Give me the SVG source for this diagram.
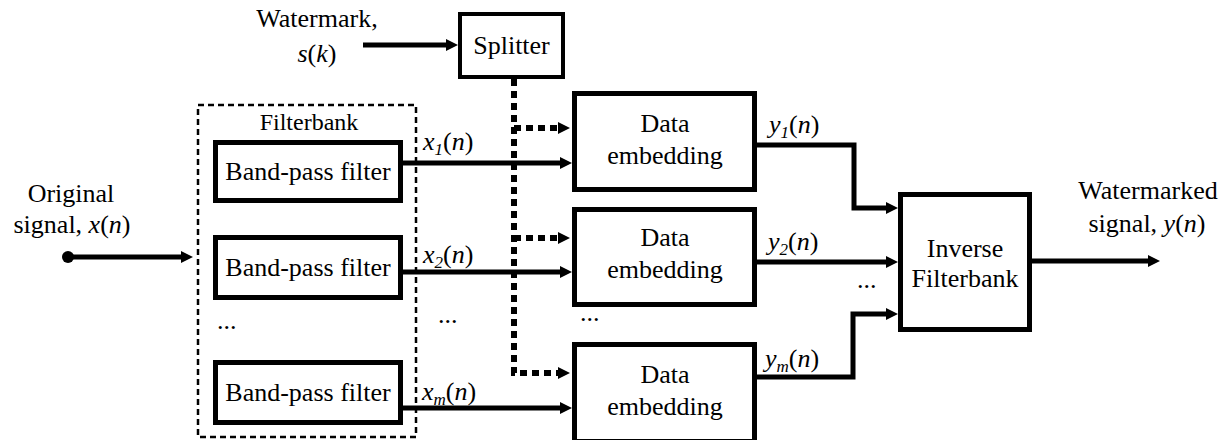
<svg xmlns="http://www.w3.org/2000/svg" width="1226" height="440" viewBox="0 0 1226 440">
<style>
.box{fill:#fff;stroke:#000;stroke-width:5}
.ln{fill:none;stroke:#000;stroke-width:5}
.dl{fill:none;stroke:#000;stroke-width:6;stroke-dasharray:7 5}
.t{font-family:'Liberation Serif',serif;font-size:26px;fill:#000}
.c{text-anchor:middle}
.i{font-style:italic}
.sub{font-size:17px;font-style:italic}
</style>
<defs>
<marker id="ah" viewBox="0 0 12 12" refX="2" refY="6" markerWidth="12" markerHeight="12" markerUnits="userSpaceOnUse" orient="auto">
<path d="M0,0 L12,6 L0,12 z" fill="#000"/>
</marker>
</defs>
<rect width="1226" height="440" fill="#fff"/>

<g id="filterbank">
<rect x="198" y="105" width="218" height="332" fill="none" stroke="#000" stroke-width="2.5" stroke-dasharray="6 4"/>
<text class="t c" x="309" y="130" style="font-size:24px">Filterbank</text>
<text class="t" x="217" y="329">...</text>
</g>

<g id="connectors">
<path class="ln" d="M363,45 H448" marker-end="url(#ah)"/>
<circle cx="68" cy="257" r="6" fill="#000"/>
<path class="ln" d="M68,257 H183" marker-end="url(#ah)"/>
<path class="ln" d="M403,163 H562" marker-end="url(#ah)"/>
<path class="ln" d="M403,272 H562" marker-end="url(#ah)"/>
<path class="ln" d="M403,408 H562" marker-end="url(#ah)"/>
<path class="dl" d="M514,79 V373 H560" marker-end="url(#ah)"/>
<path class="dl" d="M514,128 H560" marker-end="url(#ah)"/>
<path class="dl" d="M514,238 H560" marker-end="url(#ah)"/>
<path class="ln" d="M757,145 H854 V208 H888" marker-end="url(#ah)"/>
<path class="ln" d="M757,262 H888" marker-end="url(#ah)"/>
<path class="ln" d="M757,377 H853 V314 H888" marker-end="url(#ah)"/>
<path class="ln" d="M1032,261 H1150" marker-end="url(#ah)"/>
</g>

<g id="splitter">
<rect x="460" y="14" width="103" height="63" fill="#fff" stroke="#000" stroke-width="4"/>
<text class="t c" x="511.5" y="54">Splitter</text>
</g>

<g id="bpf1">
<rect class="box" x="215.5" y="142.5" width="185" height="58"/>
<text class="t c" x="308" y="180">Band-pass filter</text>
</g>
<g id="bpf2">
<rect class="box" x="215.5" y="237.5" width="185" height="60"/>
<text class="t c" x="308" y="276">Band-pass filter</text>
</g>
<g id="bpf3">
<rect class="box" x="215.5" y="362.5" width="185" height="60"/>
<text class="t c" x="308" y="401">Band-pass filter</text>
</g>

<g id="embed1">
<rect class="box" x="574.5" y="93.5" width="180" height="96"/>
<text class="t c" x="665" y="132">Data</text>
<text class="t c" x="665" y="164">embedding</text>
</g>
<g id="embed2">
<rect class="box" x="574.5" y="209.5" width="180" height="95"/>
<text class="t c" x="665" y="246">Data</text>
<text class="t c" x="665" y="278">embedding</text>
</g>
<g id="embed3">
<rect class="box" x="574.5" y="344.5" width="180" height="97"/>
<text class="t c" x="665" y="383">Data</text>
<text class="t c" x="665" y="415">embedding</text>
</g>

<g id="inverse">
<rect class="box" x="900.5" y="194.5" width="129" height="135"/>
<text class="t c" x="965" y="257">Inverse</text>
<text class="t c" x="965" y="287">Filterbank</text>
</g>

<g id="labels">
<text class="t c" x="317" y="27">Watermark,</text>
<text class="t c" x="317" y="62"><tspan class="i">s</tspan>(<tspan class="i">k</tspan>)</text>
<text class="t c" x="71" y="202">Original</text>
<text class="t c" x="72" y="233">signal, <tspan class="i">x</tspan>(<tspan class="i">n</tspan>)</text>
<text class="t c" x="1148" y="199">Watermarked</text>
<text class="t c" x="1147" y="232">signal, <tspan class="i">y</tspan>(<tspan class="i">n</tspan>)</text>
<text class="t" x="423" y="150"><tspan class="i">x</tspan><tspan class="sub" dy="5">1</tspan><tspan dy="-5">(</tspan><tspan class="i">n</tspan>)</text>
<text class="t" x="423" y="263"><tspan class="i">x</tspan><tspan class="sub" dy="5">2</tspan><tspan dy="-5">(</tspan><tspan class="i">n</tspan>)</text>
<text class="t" x="422" y="400"><tspan class="i">x</tspan><tspan class="sub" dy="5">m</tspan><tspan dy="-5">(</tspan><tspan class="i">n</tspan>)</text>
<text class="t" x="769" y="133"><tspan class="i">y</tspan><tspan class="sub" dy="5">1</tspan><tspan dy="-5">(</tspan><tspan class="i">n</tspan>)</text>
<text class="t" x="768" y="250"><tspan class="i">y</tspan><tspan class="sub" dy="5">2</tspan><tspan dy="-5">(</tspan><tspan class="i">n</tspan>)</text>
<text class="t" x="765" y="367"><tspan class="i">y</tspan><tspan class="sub" dy="5">m</tspan><tspan dy="-5">(</tspan><tspan class="i">n</tspan>)</text>
<text class="t" x="438" y="323">...</text>
<text class="t" x="580" y="321">...</text>
<text class="t" x="857" y="288">...</text>
</g>
</svg>
